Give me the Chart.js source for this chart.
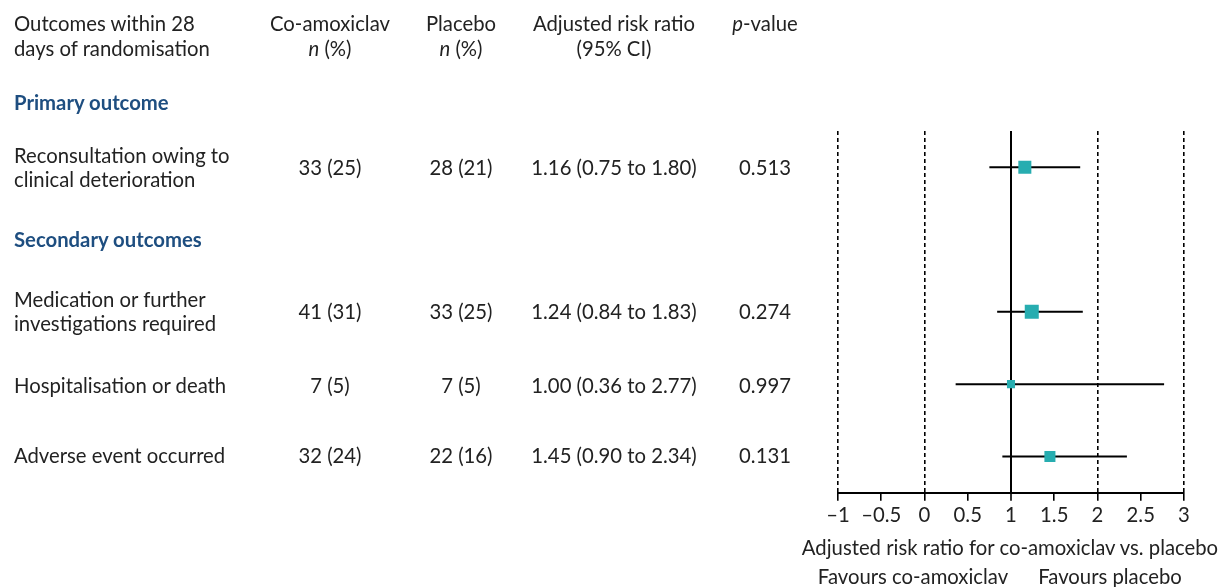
<!DOCTYPE html>
<html>
<head>
<meta charset="utf-8">
<script src="https://cdn.jsdelivr.net/npm/chart.js@4"></script>
<style>
  html, body { margin:0; padding:0; background:#fff; overflow:hidden; }
  body { width:1220px; height:587px; position:relative; font-family:Lato, sans-serif; color:#222; }
  #wrap { position:absolute; left:0; top:0; width:1220px; height:587px; }
  .t { position:absolute; font-size:20.3px; line-height:24.5px; white-space:nowrap; }
  .c { transform:translateX(-50%); text-align:center; }
  .h { font-weight:bold; color:#1e4e80; }
</style>
</head>
<body>
<div id="wrap"><canvas id="forest"></canvas></div>
<div id="table"></div>
<script>
// Data
const outcomes = [
    ['Reconsultation owing to', 'clinical deterioration'],
    ['Medication or further', 'investigations required'],
    ['Hospitalisation or death'],
    ['Adverse event occurred']
];
const groups = ['Primary outcome', 'Secondary outcomes'];
const coAmoxiclav = ['33 (25)', '41 (31)', '7 (5)', '32 (24)'];
const placebo = ['28 (21)', '33 (25)', '7 (5)', '22 (16)'];
const riskRatio = [1.16, 1.24, 1.00, 1.45];
const ciLower = [0.75, 0.84, 0.36, 0.90];
const ciUpper = [1.80, 1.83, 2.77, 2.34];
const pValues = ['0.513', '0.274', '0.997', '0.131'];
const xTicks = [-1, -0.5, 0, 0.5, 1, 1.5, 2, 2.5, 3];

// layout bits
const rowY = [1, 5, 7, 9];            // row slots on the hidden y scale (0..10)
const markerRadius = [9.2, 9.9, 5.7, 7.8];
const teal = '#27adb0';

// table text (html)
const table = document.getElementById('table');
function put(txt, left, top, cls) {
    const d = document.createElement('div');
    d.className = 't ' + (cls || '');
    d.style.left = left + 'px';
    d.style.top = top + 'px';
    d.innerHTML = txt;
    table.appendChild(d);
}
put('Outcomes within 28<br>days of randomisation', 14, 11);
put('Co-amoxiclav<br><i>n</i> (%)', 330, 11, 'c');
put('Placebo<br><i>n</i> (%)', 461, 11, 'c');
put('Adjusted risk ratio<br>(95% CI)', 614, 11, 'c');
put('<i>p</i>-value', 765, 11, 'c');
put(groups[0], 14, 90, 'h');
put(groups[1], 14, 227, 'h');

const rowPx = [168, 312, 386, 456];
outcomes.forEach((o, i) => {
    const top = rowPx[i] - 13;
    put(o.join('<br>'), 14, o.length > 1 ? top - 12.25 : top);
    put(coAmoxiclav[i], 330, top, 'c');
    put(placebo[i], 461, top, 'c');
    put(riskRatio[i].toFixed(2) + ' (' + ciLower[i].toFixed(2) + ' to ' + ciUpper[i].toFixed(2) + ')', 614, top, 'c');
    put(pValues[i], 765, top, 'c');
});

// axis caption under the plot
put('Adjusted risk ratio for co-amoxiclav vs. placebo', 1010, 535, 'c');
put('Favours co-amoxiclav', 913, 564, 'c');
put('Favours placebo', 1110, 564, 'c');

// chart
const ciSets = riskRatio.map((r, i) => ({
    type:'line',
    data:[{x:ciLower[i], y:rowY[i]}, {x:ciUpper[i], y:rowY[i]}],
    borderColor:'#000',
    borderWidth:2,
    pointRadius:0,
    order:2
}));

Chart.defaults.font.family = 'Lato, sans-serif';
Chart.defaults.color = '#222';

new Chart(document.getElementById('forest').getContext('2d'), {
    type:'scatter',
    data:{
        datasets:[{
            data: riskRatio.map((r, i) => ({x:r, y:rowY[i]})),
            pointStyle:'rect',
            pointRadius: markerRadius,
            pointBackgroundColor: teal,
            pointBorderWidth:0,
            order:1
        }].concat(ciSets)
    },
    options:{
        responsive:true,
        maintainAspectRatio:false,
        animation:false,
        layout:{padding:{left:838, right:36, top:131, bottom:56}},
        plugins:{legend:{display:false}, tooltip:{enabled:false}},
        scales:{
            y:{type:'linear', display:false, min:0, max:10, reverse:true},
            x:{
                type:'linear', min:-1, max:3,
                afterBuildTicks: s => { s.ticks = xTicks.map(v => ({value:v})); },
                ticks:{
                    font:{size:20.3},
                    color:'#222',
                    padding:3,
                    autoSkip:false,
                    maxRotation:0,
                    minRotation:0,
                    callback: v => (v < 0 ? '\u2013' + Math.abs(v) : String(v))
                },
                grid:{
                    color: c => (c.tick && Number.isInteger(c.tick.value)) ? '#000' : 'rgba(0,0,0,0)',
                    lineWidth: c => (c.tick && c.tick.value === 1) ? 2 : 1.6,
                    tickColor:'#000',
                    tickWidth:1.6,
                    tickLength:8
                },
                border:{
                    display:true, color:'#000', width:2,
                    dash: c => (c.tick && c.tick.value === 1) ? [] : [4, 3]
                }
            }
        }
    }
});
</script>
</body>
</html>
